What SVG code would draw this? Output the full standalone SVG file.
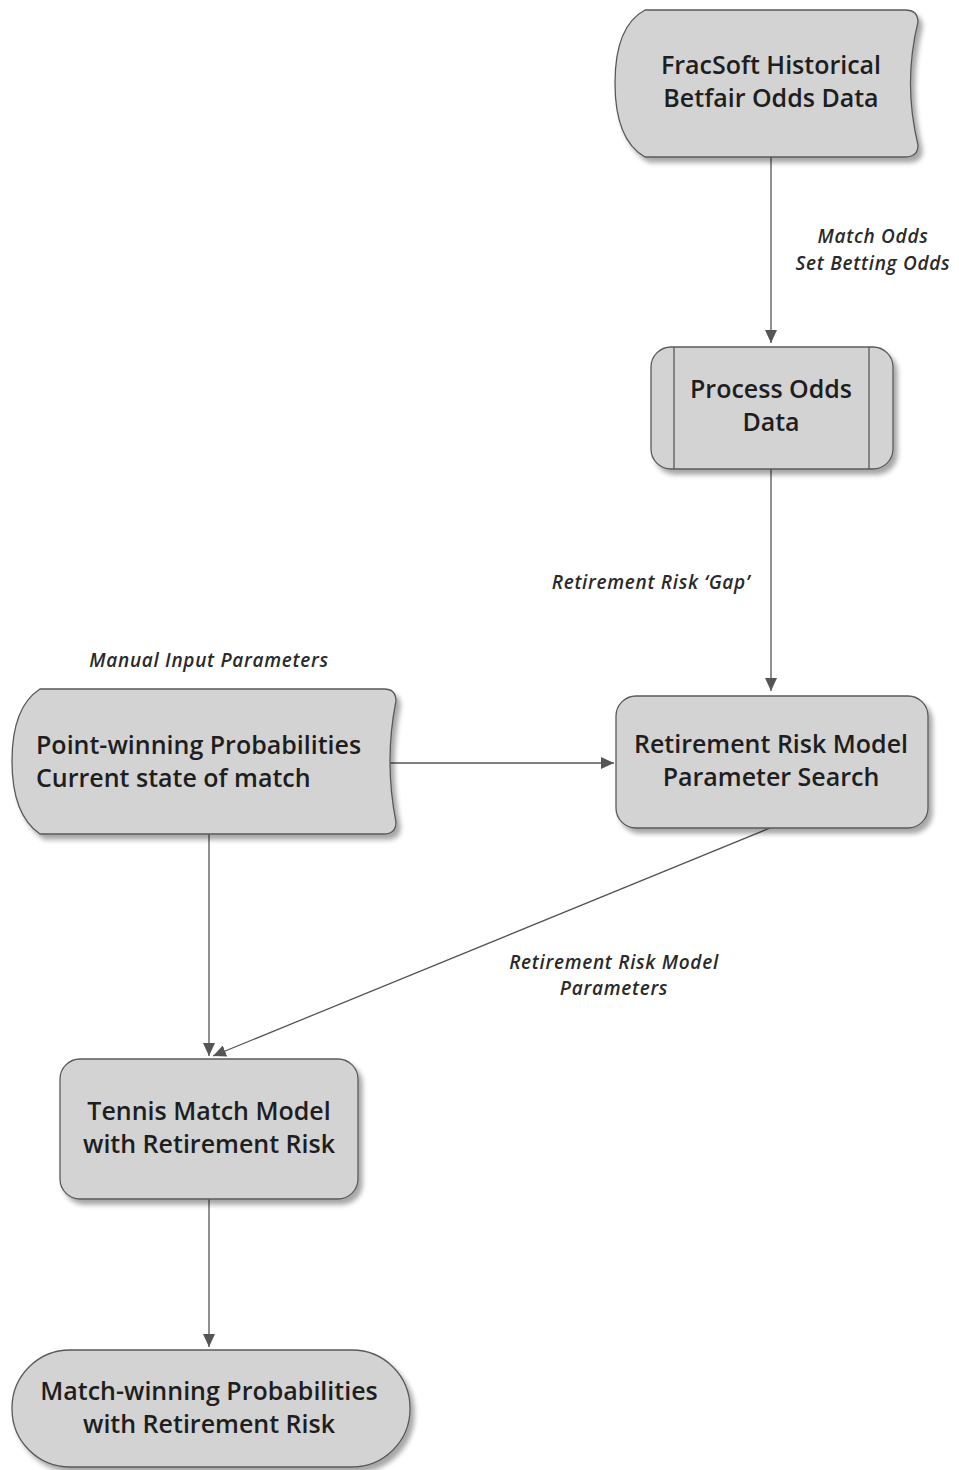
<svg xmlns="http://www.w3.org/2000/svg" width="959" height="1470" viewBox="0 0 959 1470">
<style>
.node{fill:#d3d3d3;stroke:#595959;stroke-width:1.3;filter:url(#sh)}
.inner{stroke:#595959;stroke-width:1.3;fill:none}
.t{font-family:"Open Sans","Noto Sans",sans-serif;font-size:25px;fill:#1e1e1e;font-weight:600}
.c{text-anchor:middle}
.lbl{font-family:"Open Sans","Noto Sans",sans-serif;font-size:19px;letter-spacing:0.7px;font-style:italic;font-weight:600;fill:#2a2a2a;text-anchor:middle}
.edge{stroke:#555;stroke-width:1.3;fill:none;marker-end:url(#ah)}
</style>
<defs>
<filter id="sh" x="-10%" y="-10%" width="125%" height="130%">
<feGaussianBlur in="SourceAlpha" stdDeviation="2.5"/>
<feOffset dx="4" dy="5" result="b"/>
<feComponentTransfer><feFuncA type="linear" slope="0.35"/></feComponentTransfer>
<feMerge><feMergeNode/><feMergeNode in="SourceGraphic"/></feMerge>
</filter>
<marker id="ah" markerWidth="14" markerHeight="12" refX="13" refY="6" orient="auto" markerUnits="userSpaceOnUse">
<path d="M0,0 L13,6 L0,12 Z" fill="#555"/>
</marker>
</defs>
<rect width="959" height="1470" fill="#fff"/>
<g id="connectors">
<path class="edge" d="M771,157 L771,343"/>
<path class="edge" d="M771,469 L771,691"/>
<path class="edge" d="M388,763 L614,763"/>
<path class="edge" d="M209,834 L209,1056"/>
<path class="edge" d="M770,828 L213,1056"/>
<path class="edge" d="M209,1199 L209,1347"/>
<text class="lbl" x="873" y="243">Match Odds</text>
<text class="lbl" x="873" y="270">Set Betting Odds</text>
<text class="lbl" x="651" y="589">Retirement Risk ‘Gap’</text>
<text class="lbl" x="209" y="667">Manual Input Parameters</text>
<text class="lbl" x="614" y="969">Retirement Risk Model</text>
<text class="lbl" x="614" y="995">Parameters</text>
</g>
<g id="fracsoft">
<path class="node" d="M645,10 L905,10 Q918,10 918,22 Q903,83 918,145 Q918,157 905,157 L645,157 Q615,140 615,83 Q615,26 645,10 Z"/>
<text class="t c" x="771" y="74">FracSoft Historical</text>
<text class="t c" x="771" y="107">Betfair Odds Data</text>
</g>
<g id="process">
<rect class="node" x="651" y="347" width="242" height="122" rx="20"/>
<path class="inner" d="M674,347 L674,469 M869,347 L869,469"/>
<text class="t c" x="771" y="398">Process Odds</text>
<text class="t c" x="771" y="431">Data</text>
</g>
<g id="pointwin">
<path class="node" d="M40,689 L384,689 Q396,689 396,701 Q384,761 396,822 Q396,834 384,834 L40,834 Q12,815 12,761 Q12,707 40,689 Z"/>
<text class="t" x="36" y="754">Point-winning Probabilities</text>
<text class="t" x="36" y="787">Current state of match</text>
</g>
<g id="search">
<rect class="node" x="616" y="696" width="312" height="132" rx="20"/>
<text class="t c" x="771" y="753">Retirement Risk Model</text>
<text class="t c" x="771" y="786">Parameter Search</text>
</g>
<g id="tennis">
<rect class="node" x="60" y="1059" width="298" height="140" rx="20"/>
<text class="t c" x="209" y="1120">Tennis Match Model</text>
<text class="t c" x="209" y="1153">with Retirement Risk</text>
</g>
<g id="matchwin">
<rect class="node" x="12" y="1350" width="398" height="117" rx="58"/>
<text class="t c" x="209" y="1400">Match-winning Probabilities</text>
<text class="t c" x="209" y="1433">with Retirement Risk</text>
</g>
</svg>
